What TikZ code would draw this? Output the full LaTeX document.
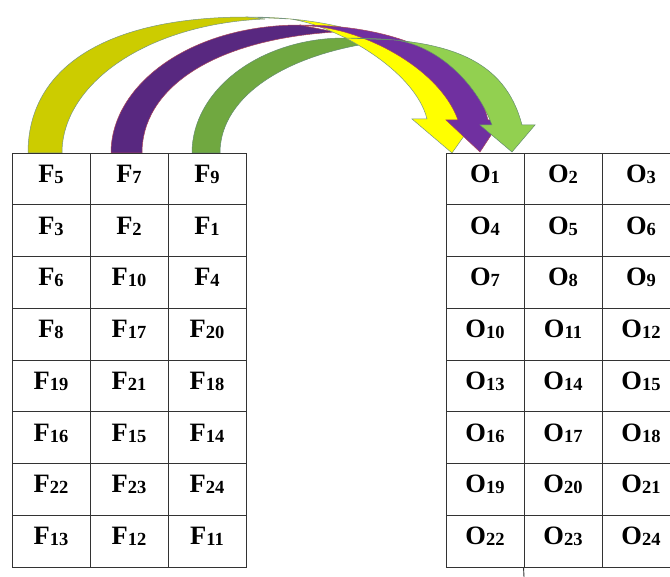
\documentclass[tikz,border=0pt]{standalone}
\usepackage{fontspec}
\setmainfont{Liberation Serif}
\definecolor{yback}{RGB}{204,204,0}
\definecolor{yfront}{RGB}{255,255,0}
\definecolor{pback}{RGB}{88,40,128}
\definecolor{pfront}{RGB}{112,48,160}
\definecolor{gback}{RGB}{112,168,64}
\definecolor{gfront}{RGB}{146,208,80}
\definecolor{yline}{RGB}{120,150,130}
\definecolor{pline}{RGB}{170,70,90}
\definecolor{gline}{RGB}{100,140,110}
\newcommand\mylbl[2]{#1\raisebox{-1pt}{\fontsize{18.5}{18.5}\selectfont #2}}
\tikzset{
  cell/.style={draw=black!80, line width=0.9pt, minimum width=78pt, minimum height=51.75pt,
    inner sep=0pt, text height=13pt, text depth=5.8pt,
    font=\fontsize{26.5}{26.5}\selectfont\bfseries, anchor=center},
  tableline/.style={draw=black!80, line width=0.9pt},
  yb/.style={fill=yback, draw=yline, line width=0.5pt},
  yf/.style={fill=yfront, draw=yline, line width=0.5pt},
  pb/.style={fill=pback, draw=pline, line width=0.5pt},
  pf/.style={fill=pfront, draw=pline, line width=0.5pt},
  gb/.style={fill=gback, draw=gline, line width=0.5pt},
  gf/.style={fill=gfront, draw=gline, line width=0.5pt},
}
\begin{document}
\begin{tikzpicture}[x=1pt, y=-1pt]
\clip (0,0) rectangle (670,577);
% back faces
\filldraw[yb] (28,153) .. controls (28,67) and (107,17) .. (247,17) -- (265,19)
  .. controls (145,24) and (62,85) .. (62,153) -- cycle;
\filldraw[pb] (111,153) .. controls (111,85) and (190,25) .. (300,25) -- (335,32)
  .. controls (210,40) and (142,90) .. (142,153) -- cycle;
\filldraw[gb] (192,153) .. controls (192,90) and (260,38) .. (345,38) -- (395,40)
  .. controls (290,50) and (220,95) .. (220,153) -- cycle;
% front faces
\filldraw[yf] (247,17) .. controls (370,17) and (445,60) .. (461,119) -- (476,119) -- (452,153)
  -- (412,119) -- (427,119) .. controls (415,70) and (335,25) .. (290,19) -- cycle;
\filldraw[pf] (300,25) .. controls (410,25) and (475,65) .. (488,120) -- (501,120) -- (480,152)
  -- (446,120) -- (458,120) .. controls (440,70) and (370,33) .. (320,27) -- cycle;
\filldraw[gf] (345,38) .. controls (450,38) and (505,60) .. (522,125) -- (535,125) -- (512,152)
  -- (480,125) -- (492,125) .. controls (475,80) and (435,45) .. (395,40) -- cycle;
% left table
\foreach \r/\a/\b/\c in {1/5/7/9, 2/3/2/1, 3/6/10/4, 4/8/17/20, 5/19/21/18, 6/16/15/14, 7/22/23/24, 8/13/12/11} {
  \node[cell] (L-\r-1) at (51, {153+51.75*(\r-0.5)}) {\mylbl{F}{\a}};
  \node[cell] (L-\r-2) at (129, {153+51.75*(\r-0.5)}) {\mylbl{F}{\b}};
  \node[cell] (L-\r-3) at (207, {153+51.75*(\r-0.5)}) {\mylbl{F}{\c}};
}
% right table
\foreach \r in {1,...,8} {
  \foreach \c in {1,2,3} {
    \pgfmathtruncatemacro\n{3*(\r-1)+\c}
    \node[cell] (R-\r-\c) at ({446+78*(\c-0.5)}, {153+51.75*(\r-0.5)}) {\mylbl{O}{\n}};
  }
}
\coordinate (tail) at (524,577);
\draw[tableline] (R-8-2.south west) -- (tail);
\end{tikzpicture}
\end{document}
